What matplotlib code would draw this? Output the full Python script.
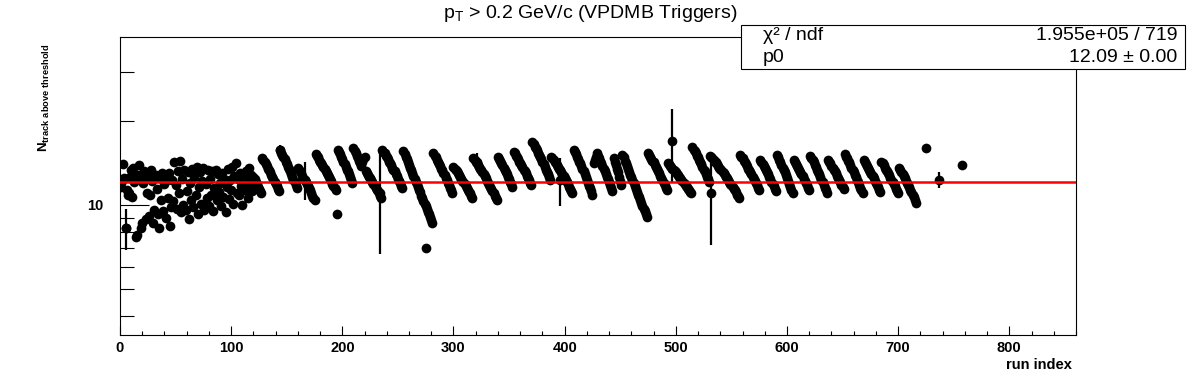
import matplotlib
matplotlib.use('Agg')
import matplotlib.pyplot as plt
from matplotlib.ticker import FixedLocator, MultipleLocator, NullFormatter, FixedFormatter
import numpy as np

plt.rcParams['font.family'] = ['Liberation Sans', 'DejaVu Sans']
plt.rcParams['mathtext.fontset'] = 'custom'
plt.rcParams['mathtext.rm'] = 'Liberation Sans'
plt.rcParams['mathtext.bf'] = 'Liberation Sans:bold'

# ---------- data: N tracks above threshold per run

n_track = [
    # runs 0-119, scattered start
    12.3, 11.6, 12.2, 14.0, 12.5, 8.3, 11.3, 10.9, 11.0, 12.6,
    13.3, 10.7, 13.6, 12.1, 7.7, 7.8, 12.8, 13.9, 12.4, 8.3,
    8.6, 12.0, 13.2, 8.9, 11.0, 12.7, 9.1, 10.9, 13.3, 12.2,
    8.6, 9.6, 12.8, 11.4, 9.3, 8.3, 12.5, 10.4, 13.0, 9.5,
    11.9, 9.0, 12.3, 10.6, 13.0, 8.4, 9.8, 12.3, 10.3, 14.3,
    11.8, 9.7, 13.2, 11.0, 14.4, 9.4, 12.4, 10.0, 13.3, 9.6,
    11.2, 13.1, 8.9, 12.0, 10.4, 13.5, 9.8, 12.6, 10.9, 13.7,
    9.3, 11.6, 13.1, 10.1, 12.2, 13.6, 9.6, 11.9, 10.6, 13.4,
    9.9, 12.4, 10.9, 13.2, 9.5, 11.5, 13.4, 10.4, 12.9, 11.1,
    12.0, 9.9, 13.0, 10.7, 12.4, 9.4, 11.6, 13.5, 10.5, 12.3,
    11.3, 13.7, 10.1, 12.7, 14.1, 11.0, 12.4, 10.9, 13.0, 11.7,
    10.0, 12.9, 11.3, 13.2, 12.2, 10.6, 13.6, 11.9, 12.8, 11.2,
    # fills
    12.6, 12.4, 12.1, 11.9, 11.6, 11.4, 11.2, 11.0,
    14.7, 14.5, 14.2, 14.0, 13.8, 13.5, 13.3, 13.1, 12.8, 12.6, 12.4, 12.1, 11.9, 11.7, 11.4, 11.2,
    15.7, 15.4, 15.1, 14.9, 14.6, 14.3, 14.0, 13.7, 13.5, 13.2, 12.9, 12.6, 12.3, 12.1, 11.8, 11.5,
    13.6, 13.4, 13.2, 13.0, 12.7, 12.5, 12.3, 12.1, 11.9, 11.7, 11.5, 11.3, 11.0, 10.8, 10.6, 10.4,
    15.2, 15.0, 14.8, 14.5, 14.3, 14.1, 13.9, 13.7, 13.5, 13.2, 13.0, 12.8, 12.6, 12.4, 12.2, 11.9, 11.7, 11.5,
    11.3, 9.3,
    15.8, 15.5, 15.2, 14.9, 14.6, 14.3, 14.0, 13.7, 13.4, 13.2, 12.9, 12.6, 12.3, 12.0,
    16.0, 15.6, 15.3, 15.0, 14.7, 14.4, 14.1, 13.8, 14.2, 14.6, 14.9,
    13.2, 13.0, 12.8, 12.6, 12.5, 12.3, 12.1, 11.9, 11.7, 11.5, 11.3, 11.2, 11.0, 10.8, 10.6,
    15.8, 15.5, 15.3, 15.0, 14.8, 14.6, 14.3, 14.1, 13.9, 13.6, 13.4, 13.2, 12.9, 12.7, 12.4, 12.2, 12.0, 11.7, 11.5,
    15.6, 15.25, 14.9, 14.6, 14.25, 13.9, 13.6, 13.3, 13.0, 12.7, 12.4, 12.1, 11.85, 11.6,
    11.35, 11.1, 10.8, 10.6, 10.35, 10.1, 9.9, 9.7, 9.45, 9.25, 9.05, 8.8, 8.6,
    15.3, 15.0, 14.8, 14.5, 14.3, 14.0, 13.8, 13.5, 13.3, 13.0, 12.8, 12.5, 12.3, 12.0, 11.8, 11.5, 11.3, 11.0,
    13.7, 13.5, 13.3, 13.2, 13.0, 12.8, 12.6, 12.4, 12.2, 12.1, 11.9, 11.7, 11.5, 11.3, 11.1, 11.0, 10.8, 10.6,
    14.7, 14.5, 14.3, 14.1, 13.9, 13.7, 13.5, 13.3, 13.1, 12.9, 12.7, 12.5, 12.2, 12.0, 11.8, 11.6, 11.4,
    11.2, 11.0, 10.8, 10.6, 10.4,
    14.9, 14.6, 14.4, 14.1, 13.9, 13.6, 13.4, 13.1, 12.9, 12.6, 12.4, 12.1, 11.9, 11.6,
    15.5, 15.3, 15.0, 14.8, 14.6, 14.3, 14.1, 13.9, 13.7, 13.4, 13.2, 13.0, 12.7, 12.5, 12.3, 12.0, 11.8,
    16.8, 16.5, 16.2, 16.0, 15.7, 15.4, 15.1, 14.8, 14.6, 14.3, 14.0, 13.7, 13.4, 13.1, 12.9, 12.6, 12.3,
    14.9, 14.7, 14.5, 14.3, 14.1, 13.9, 13.7, 13.5, 13.3, 13.1, 12.9, 12.7, 12.5, 12.3, 12.1, 11.9, 11.6, 11.4, 11.2, 11.0,
    15.8, 15.5, 15.2, 14.9, 14.6, 14.3, 14.1, 13.8, 13.5, 13.2, 12.9, 12.6, 12.3, 12.0, 11.7, 11.5, 11.2, 10.9,
    14.1, 14.5, 14.9,
    15.3, 15.0, 14.7, 14.4, 14.1, 13.8, 13.5, 13.2, 12.9, 12.6, 12.4, 12.1, 11.8, 11.5, 11.2,
    14.7, 14.3, 13.9, 13.5, 13.1, 12.6, 12.2, 11.8,
    15.1, 14.8, 14.4, 14.1, 13.75, 13.45, 13.15, 12.85, 12.55, 12.25, 11.95, 11.7,
    11.4, 11.15, 10.9, 10.65, 10.4, 10.15, 9.95, 9.7, 9.5, 9.3, 9.05,
    15.4, 15.1, 14.9, 14.6, 14.4, 14.2, 13.9, 13.7, 13.5, 13.2, 13.0, 12.7, 12.5, 12.3, 12.0, 11.8, 11.5, 11.3,
    14.1, 14.0, 13.8, 13.7, 13.5, 13.4, 13.2, 13.1, 12.9, 12.8, 12.6, 12.5, 12.3, 12.2, 12.0, 11.9,
    11.7, 11.6, 11.4, 11.3, 11.1, 11.0,
    16.1, 15.8, 15.6, 15.3, 15.0, 14.8, 14.5, 14.2, 14.0, 13.7, 13.4, 13.2, 12.9, 12.6, 12.4, 12.1,
    15.0, 14.8, 14.7, 14.5, 14.3, 14.2, 14.0, 13.8, 13.6, 13.5, 13.3, 13.1, 13.0, 12.8,
    12.6, 12.5, 12.3, 12.1, 11.9, 11.8, 11.6, 11.4, 11.3, 11.1, 10.9, 10.8, 10.6,
    15.1, 14.9, 14.7, 14.4, 14.2, 14.0, 13.8, 13.5, 13.3, 13.1, 12.9, 12.6, 12.4, 12.2, 12.0, 11.8, 11.5, 11.3,
    14.5, 14.3, 14.0, 13.8, 13.6, 13.3, 13.1, 12.9, 12.6, 12.4, 12.1, 11.9, 11.7, 11.4, 11.2,
    15.1, 14.8, 14.5, 14.2, 13.9, 13.6, 13.3, 13.1, 12.8, 12.5, 12.2, 11.9, 11.6, 11.3, 11.0,
    14.5, 14.3, 14.0, 13.8, 13.6, 13.4, 13.1, 12.9, 12.7, 12.4, 12.2, 12.0, 11.8, 11.5, 11.3,
    15.0, 14.7, 14.5, 14.2, 13.9, 13.7, 13.4, 13.1, 12.9, 12.6, 12.3, 12.1, 11.8, 11.5, 11.3, 11.0,
    14.5, 14.3, 14.1, 13.8, 13.6, 13.4, 13.2, 13.0, 12.7, 12.5, 12.3, 12.1, 11.8, 11.6, 11.4,
    15.2, 14.9, 14.7, 14.4, 14.2, 13.9, 13.6, 13.4, 13.1, 12.8, 12.6, 12.3, 12.1, 11.8, 11.5, 11.3, 11.0,
    14.5, 14.3, 14.0, 13.8, 13.6, 13.4, 13.1, 12.9, 12.7, 12.5, 12.2, 12.0, 11.8, 11.6, 11.3, 11.1,
    14.3, 14.1, 13.9, 13.6, 13.4, 13.2, 13.0, 12.8, 12.5, 12.3, 12.1, 11.9, 11.7, 11.4, 11.2, 11.0,
    13.6, 13.4, 13.1, 12.9, 12.7, 12.5, 12.2, 12.0, 11.8, 11.6, 11.3, 11.1, 10.9, 10.7, 10.4, 10.2,
]

# isolated runs
extra_run = [275, 725, 757]
extra_val = [7.0, 16.0, 13.9]

# runs with visible error bars
err_run = [5, 144, 166, 234, 321, 396, 497, 532, 737]
err_val = [8.3, 15.7, 12.3, 11.0, 14.3, 12.3, 17.0, 11.0, 12.3]
err_sig = [1.4, 0.7, 1.9, 4.3, 1.0, 2.4, 5.0, 3.8, 0.8]

fit_p0 = 12.09
chi2_txt = '1.955e+05 / 719'
p0_txt = '12.09 \u00b1 0.00'

# ---------- figure

W, H = 1196, 372
fig = plt.figure(figsize=(W / 100, H / 100), dpi=100)
ax = fig.add_axes([120 / W, 1 - 335 / H, 956 / W, 298 / H])

ms = 7.0
runs = np.arange(len(n_track))
ax.plot(runs, n_track, 'o', color='black', ms=ms, mew=0)
ax.plot(extra_run, extra_val, 'o', color='black', ms=ms, mew=0)
ax.errorbar(err_run, err_val, yerr=err_sig, fmt='o', color='black', ms=ms,
            mew=0, elinewidth=1.6, capsize=0)
ax.axhline(fit_p0, color='red', lw=1.8, zorder=5)

ax.set_yscale('log')
ax.set_xlim(0, 860)
ax.set_ylim(3.42, 40)

ax.xaxis.set_major_locator(MultipleLocator(100))
ax.xaxis.set_minor_locator(MultipleLocator(20))
ax.yaxis.set_major_locator(FixedLocator([10]))
ax.yaxis.set_major_formatter(FixedFormatter(['10']))
ax.yaxis.set_minor_locator(FixedLocator([4, 5, 6, 7, 8, 9, 20, 30]))
ax.yaxis.set_minor_formatter(NullFormatter())

ax.tick_params(axis='both', which='both', direction='in', width=0.8, top=False, right=False)
ax.tick_params(axis='x', which='major', length=6.5, pad=4, labelsize=10.5)
ax.tick_params(axis='x', which='minor', length=3.2)
ax.tick_params(axis='y', which='major', length=21, pad=12, labelsize=10.5)
ax.tick_params(axis='y', which='minor', length=10)
for lab in ax.get_xticklabels() + ax.get_yticklabels():
    lab.set_fontweight('bold')
for sp in ax.spines.values():
    sp.set_linewidth(0.8)

fig.text(1072 / W, 1 - 365 / H, 'run index', ha='right', va='center',
         fontsize=10.5, fontweight='bold')
fig.text(44 / W, 1 - 44 / H, r'N$_{\mathbf{track\ above\ threshold}}$', rotation=90,
         ha='center', va='top', fontsize=9.5, fontweight='bold')
fig.text(590 / W, 1 - 14 / H, r'p$_{\mathregular{T}}$ > 0.2 GeV/c (VPDMB Triggers)',
         ha='center', va='center', fontsize=14)

# stats box
box = plt.Rectangle((741 / W, 1 - 69 / H), 444 / W, 44 / H, transform=fig.transFigure,
                    facecolor='white', edgecolor='black', lw=0.8, zorder=10)
fig.patches.append(box)
fig.text(763 / W, 1 - 36 / H, '\u03c7\u00b2 / ndf', ha='left', va='center', fontsize=14, zorder=11)
fig.text(1177 / W, 1 - 36 / H, chi2_txt, ha='right', va='center', fontsize=14, zorder=11)
fig.text(763 / W, 1 - 58 / H, 'p0', ha='left', va='center', fontsize=14, zorder=11)
fig.text(1177 / W, 1 - 58 / H, p0_txt, ha='right', va='center', fontsize=14, zorder=11)

fig.savefig('out.png', dpi=100)
